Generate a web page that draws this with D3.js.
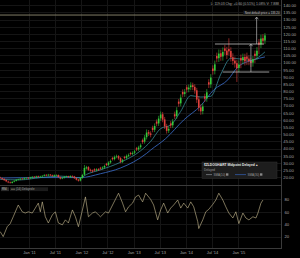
<!DOCTYPE html>
<html lang='en'>
<head>
<meta charset='utf-8'>
<title>Price chart</title>
<script src='https://cdn.jsdelivr.net/npm/d3@7'></script>
<style>
  body { margin: 0; background: #000; }
  svg { display: block; background: #000; font-family: 'Liberation Sans', sans-serif; }
</style>
</head>
<body>
<div id='chart'></div>
<script>
// two-week candles, first one on 2010-06-14
var candleStart = '2010-06-14';
var opens = [19.9,19.4,18.9,18.1,17.0,16.6,16.1,17.0,17.6,18.3,18.5,19.1,18.8,19.4,19.7,19.3,19.8,20.4,20.0,20.7,
  20.1,20.6,21.1,21.7,21.3,21.9,21.4,20.8,21.3,21.6,20.1,19.2,19.7,20.4,20.7,20.2,20.9,20.6,19.5,18.4,
  17.7,19.6,21.8,26.2,27.1,25.3,24.8,25.6,24.9,25.7,26.6,26.2,26.9,29.4,28.7,30.4,33.5,32.7,34.3,34.8,
  33.4,30.9,34.2,33.6,35.0,37.0,36.4,37.2,40.3,39.5,41.0,45.9,44.9,48.0,51.5,50.6,54.5,53.2,58.9,57.6,
  61.2,64.0,60.4,55.8,52.6,57.6,56.3,64.0,62.8,72.8,71.6,79.5,78.2,82.8,81.4,82.9,84.3,83.1,80.7,74.4,
  68.8,66.2,76.4,75.0,86.3,84.9,95.9,94.4,104.6,103.1,106.5,104.3,109.9,108.4,109.5,108.1,103.8,101.4,99.6,96.3,
  103.2,101.7,104.0,104.3,102.8,101.2,100.0,106.2,104.8,114.1,112.7,117.0,115.4];
var closes = [19.5,18.8,18.0,17.2,16.5,16.2,16.8,17.5,18.2,18.6,19.0,18.7,19.3,19.6,19.2,19.9,20.3,20.0,20.6,20.2,
  20.5,21.0,21.6,21.2,21.8,21.3,20.9,21.4,21.5,20.2,19.1,19.6,20.3,20.6,20.1,20.8,20.5,19.4,18.3,17.6,
  19.5,21.6,26.5,27.0,25.2,24.6,24.0,24.8,25.5,25.1,26.0,26.8,27.9,28.6,30.2,31.4,32.6,34.1,34.6,33.2,
  30.8,31.9,33.5,34.8,35.6,36.2,37.0,38.1,39.4,40.8,42.3,44.6,47.8,51.2,50.4,49.6,53.0,55.8,57.4,61.0,
  63.8,60.2,55.6,52.4,53.8,56.1,58.9,62.5,66.8,71.3,75.6,77.9,79.4,81.2,82.6,84.1,83.0,80.5,74.2,68.5,
  66.0,69.4,74.8,79.3,84.7,89.6,94.2,98.8,102.9,106.3,104.1,107.5,108.2,105.3,107.9,103.6,101.2,99.4,96.1,98.7,
  101.5,103.8,100.9,102.6,101.0,99.8,102.4,104.6,108.3,112.5,116.8,115.2,119.0];
var highs = [20.4,19.9,19.3,18.6,17.6,17.1,17.3,18.0,18.8,19.1,19.6,19.5,19.9,20.1,20.2,20.4,20.9,20.9,21.1,21.2,
  21.1,21.5,22.2,22.3,22.4,22.3,21.9,22.0,22.1,22.0,20.6,20.2,20.8,21.2,21.1,21.4,21.4,21.0,20.0,18.9,
  20.1,22.4,28.6,28.0,27.8,26.0,25.4,26.3,26.3,26.4,27.3,27.6,28.8,30.1,31.1,32.4,34.3,35.2,35.8,35.5,
  34.1,32.8,35.0,35.9,36.6,37.8,38.1,39.2,41.2,42.0,43.6,47.0,49.5,53.4,53.0,52.1,56.0,57.6,60.4,62.9,
  65.9,65.6,62.1,57.3,55.6,59.2,60.7,65.8,68.9,74.6,77.8,81.3,81.6,84.5,84.7,86.3,86.0,84.9,82.4,76.5,
  70.9,71.6,78.3,81.5,88.4,92.0,98.1,101.4,107.0,109.2,109.0,110.6,112.4,111.0,117.0,110.7,106.5,104.2,102.0,101.6,
  105.6,106.3,106.2,107.0,105.1,103.4,104.6,108.4,110.8,116.5,119.5,119.8,120.6];
var lows = [19.0,18.3,17.5,16.6,15.9,15.6,15.7,16.5,17.1,17.8,18.0,18.2,18.3,18.9,18.6,18.8,19.3,19.5,19.4,19.7,
  19.6,20.1,20.6,20.7,20.8,20.8,20.4,20.2,20.8,19.7,18.5,18.7,19.2,19.9,19.6,19.7,20.0,18.9,17.8,17.0,
  17.1,19.0,21.2,25.4,24.5,23.9,23.3,24.1,24.2,24.4,25.3,25.5,26.1,27.8,27.9,29.5,31.7,31.8,33.3,32.2,
  29.8,29.9,32.5,32.6,34.0,35.2,35.4,36.2,38.3,38.4,39.8,43.3,43.5,46.4,48.8,47.9,51.4,51.5,55.6,55.8,
  59.3,58.4,53.7,50.5,50.9,54.3,54.5,60.6,60.8,69.2,69.5,75.8,76.1,79.0,79.3,80.7,80.8,78.3,71.9,66.1,
  63.6,63.9,72.5,72.7,82.3,82.4,91.6,91.8,100.2,100.4,101.3,101.4,105.4,102.5,105.0,100.8,98.4,96.5,86.5,93.5,
  96.1,98.9,98.0,98.3,98.2,97.0,97.2,99.8,102.1,105.9,110.1,112.6,112.9];

// moving averages (week number from candleStart, price)
var smaShortWeeks = [0,20,40,60,80,86,100,120,140,150,160,170,180,190,200,210,220,230,240,250,258,264];
var smaShortVals = [18.5,18.2,19.8,20.8,19.6,22.0,25.2,30.5,38.5,45.0,54.0,56.5,66.0,77.0,76.0,76.5,92.0,103.0,102.5,101.5,104.0,107.5];
var smaLongWeeks = [0,40,80,100,120,146,150,165,183,200,213,227,237,253,264];
var smaLongVals = [19.5,19.8,19.8,22.5,26.5,36.7,39,47,60,70,81,88,97,102,104];

// RSI (week number, value)
var rsiWeeks = [0,3,7,10,13,18,22,25,28,32,35,38,40,42,45,48,52,55,58,62,65,68,72,75,78,82,85,88,92,95,
  98,100,105,108,113,118,122,125,128,132,135,138,142,145,150,153,157,160,163,167,170,173,177,180,183,187,190,193,197,198,
  202,205,208,212,215,218,222,225,228,232,235,238,242,245,248,252,255,257,260,262];
var rsiVals = [28,20,36,41,52,71,60,58,60,58,66,74,60,76,52,42,55,60,42,39,47,42,63,52,36,63,84,52,58,60,
  55,52,60,58,74,90,74,60,68,74,84,87,76,90,80,71,47,63,74,58,66,71,79,66,74,66,76,68,44,33,
  47,60,64,72,79,90,79,68,58,50,60,41,58,50,47,52,50,58,74,79];

// axes
var priceTicks = d3.range(20, 145, 5);
var rsiTicks = [20, 40, 60, 80];
var timeTicks = ['2011-01-01','2011-07-01','2012-01-01','2012-07-01','2013-01-01','2013-07-01','2014-01-01','2014-07-01','2015-01-01'];

// drawn annotations
var nextPrice = 133.2;
var boxTop = { price: 113.0, from: '2014-07-22', to: '2015-06-29' };
var boxBottom = { price: 93.45, from: '2014-09-14', to: '2015-08-05' };
var arrows = [
  { date: '2015-03-30', from: 93.45, to: 113.0 },
  { date: '2015-05-09', from: 113.0, to: 131.8 }
];

var W = 300, H = 258, plotRight = 281;

var svg = d3.select('#chart').append('svg')
  .attr('width', W).attr('height', H);

var start = d3.isoParse(candleStart);
function weekDate(w) { return d3.utcDay.offset(start, Math.round(w * 7)); }

var x = d3.scaleUtc()
  .domain([d3.isoParse('2011-01-01'), d3.isoParse('2015-01-01')])
  .range([29, 238.3]);
var y = d3.scaleLinear().domain([20, 140]).range([177.3, 5.3]);
var yr = d3.scaleLinear().domain([20, 80]).range([236.6, 199.4]);

var gridColor = '#151515';

// grid
var grid = svg.append('g');
grid.selectAll('.hg').data(priceTicks).enter().append('line')
  .attr('x1', 0).attr('x2', plotRight)
  .attr('y1', function(d) { return Math.round(y(d)) + 0.5; })
  .attr('y2', function(d) { return Math.round(y(d)) + 0.5; })
  .attr('stroke', gridColor).attr('stroke-width', 1);
grid.selectAll('.hr').data(rsiTicks).enter().append('line')
  .attr('x1', 0).attr('x2', plotRight)
  .attr('y1', function(d) { return Math.round(yr(d)) + 0.5; })
  .attr('y2', function(d) { return Math.round(yr(d)) + 0.5; })
  .attr('stroke', gridColor).attr('stroke-width', 1);
grid.selectAll('.vg').data(timeTicks).enter().append('line')
  .attr('x1', function(d) { return Math.round(x(d3.isoParse(d))) + 0.5; })
  .attr('x2', function(d) { return Math.round(x(d3.isoParse(d))) + 0.5; })
  .attr('y1', 0).attr('y2', 248)
  .attr('stroke', gridColor).attr('stroke-width', 1);

// panel frames
svg.append('line').attr('x1', 0).attr('x2', plotRight).attr('y1', 185.5).attr('y2', 185.5)
  .attr('stroke', '#3a3a3a');
svg.append('line').attr('x1', 0).attr('x2', plotRight).attr('y1', 248.5).attr('y2', 248.5)
  .attr('stroke', '#3a3a3a');
svg.append('line').attr('x1', plotRight + 0.5).attr('x2', plotRight + 0.5).attr('y1', 0).attr('y2', 249)
  .attr('stroke', '#3a3a3a');

// next default price line
svg.append('line').attr('x1', 0).attr('x2', plotRight)
  .attr('y1', y(nextPrice)).attr('y2', y(nextPrice))
  .attr('stroke', '#8e8b70').attr('stroke-width', 0.9);

// moving averages
var line = d3.line().x(function(d) { return x(weekDate(d[0])); }).y(function(d) { return y(d[1]); });
svg.append('path').datum(d3.zip(smaLongWeeks, smaLongVals))
  .attr('d', line.curve(d3.curveMonotoneX)).attr('fill', 'none')
  .attr('stroke', '#3563b8').attr('stroke-width', 0.9);
svg.append('path').datum(d3.zip(smaShortWeeks, smaShortVals))
  .attr('d', line.curve(d3.curveMonotoneX)).attr('fill', 'none')
  .attr('stroke', '#3d9aa8').attr('stroke-width', 0.7);

// candles
var candles = closes.map(function(c, i) {
  return { date: weekDate(i * 2), o: opens[i], h: highs[i], l: lows[i], c: c };
});
var up = '#33c93a', down = '#e0403c';
var cg = svg.append('g');
cg.selectAll('.wick').data(candles).enter().append('line')
  .attr('x1', function(d) { return x(d.date); })
  .attr('x2', function(d) { return x(d.date); })
  .attr('y1', function(d) { return y(d.h); })
  .attr('y2', function(d) { return y(d.l); })
  .attr('stroke', function(d) { return d.c >= d.o ? up : down; })
  .attr('stroke-width', 0.6);
cg.selectAll('.body').data(candles).enter().append('rect')
  .attr('x', function(d) { return x(d.date) - 0.8; })
  .attr('width', 1.6)
  .attr('y', function(d) { return y(Math.max(d.o, d.c)); })
  .attr('height', function(d) { return Math.max(0.5, Math.abs(y(d.o) - y(d.c))); })
  .attr('fill', function(d) { return d.c >= d.o ? up : down; });

// box pattern and arrows
var ann = svg.append('g').attr('stroke', '#d8d8d8').attr('stroke-width', 0.7).attr('fill', 'none');
[boxTop, boxBottom].forEach(function(b) {
  ann.append('line')
    .attr('x1', x(d3.isoParse(b.from))).attr('x2', x(d3.isoParse(b.to)))
    .attr('y1', y(b.price)).attr('y2', y(b.price));
});
arrows.forEach(function(a) {
  var ax = x(d3.isoParse(a.date)), y0 = y(a.from), y1 = y(a.to);
  ann.append('line').attr('x1', ax).attr('x2', ax).attr('y1', y0).attr('y2', y1)
    .attr('stroke', '#b8b8b8');
  ann.append('path').attr('d', 'M' + (ax - 1.6) + ',' + (y1 + 2.2) + 'L' + ax + ',' + y1 + 'L' + (ax + 1.6) + ',' + (y1 + 2.2))
    .attr('stroke', '#b8b8b8');
});

// next price label
svg.append('rect').attr('x', 243).attr('y', 10.6).attr('width', 38).attr('height', 4)
  .attr('fill', '#141414');
svg.append('text').attr('x', 279.5).attr('y', 13.6).attr('text-anchor', 'end')
  .attr('font-size', 2.9).attr('fill', '#c8c8c8')
  .text('Next default price = ' + nextPrice.toFixed(2));

// header quote text
svg.append('text').attr('x', 279).attr('y', 5.3).attr('text-anchor', 'end')
  .attr('font-size', 3.4).attr('fill', '#a8a8a8')
  .text('L: 119.03  Chg: +0.60 (0.51%)  1.08%  V: 7.888');

// RSI line
var rline = d3.line().x(function(d) { return x(weekDate(d[0])); }).y(function(d) { return yr(d[1]); });
svg.append('path').datum(d3.zip(rsiWeeks, rsiVals))
  .attr('d', rline).attr('fill', 'none')
  .attr('stroke', '#cfc196').attr('stroke-width', 0.6);

// axes
function styleAxis(g, size) {
  g.select('.domain').remove();
  g.selectAll('text').attr('fill', '#a6a6a6').attr('font-size', size)
    .attr('font-family', "'Liberation Sans', sans-serif");
}
svg.append('g').attr('transform', 'translate(' + plotRight + ',0)')
  .call(d3.axisRight(y).tickValues(priceTicks).tickSize(0).tickPadding(2.3).tickFormat(d3.format('.2f')))
  .call(styleAxis, 4.2);
svg.append('g').attr('transform', 'translate(' + plotRight + ',0)')
  .call(d3.axisRight(yr).tickValues(rsiTicks).tickSize(0).tickPadding(3.5).tickFormat(d3.format('d')))
  .call(styleAxis, 4.2);
svg.append('g').attr('transform', 'translate(0,249)')
  .call(d3.axisBottom(x).tickValues(timeTicks.map(function(d) { return d3.isoParse(d); }))
    .tickSize(0).tickPadding(2.3).tickFormat(d3.utcFormat("%b '%y")))
  .call(styleAxis, 4);

// main legend
var lg = svg.append('g').attr('transform', 'translate(202,162)');
lg.append('rect').attr('width', 75).attr('height', 16.5).attr('fill', '#1d1d1d')
  .attr('stroke', '#333').attr('stroke-width', 0.5);
lg.append('text').attr('x', 2).attr('y', 4).attr('font-size', 3.3).attr('font-weight', 'bold')
  .attr('fill', '#e6e6e6').text('$ZLDOGHART Midpoint Delayed  \u25B4');
lg.append('text').attr('x', 2).attr('y', 8.6).attr('font-size', 3).attr('fill', '#9a9a9a').text('Delayed');
lg.append('line').attr('x1', 4).attr('x2', 10).attr('y1', 12.6).attr('y2', 12.6)
  .attr('stroke', '#9aa0a8').attr('stroke-width', 0.6);
lg.append('text').attr('x', 11.5).attr('y', 13.6).attr('font-size', 3).attr('fill', '#9a9a9a').text('SMA(10)');
lg.append('rect').attr('x', 24).attr('y', 11.3).attr('width', 2.4).attr('height', 2.4).attr('fill', '#888');
lg.append('line').attr('x1', 33).attr('x2', 44).attr('y1', 12.6).attr('y2', 12.6)
  .attr('stroke', '#3563b8').attr('stroke-width', 0.7);
lg.append('text').attr('x', 45.5).attr('y', 13.6).attr('font-size', 3).attr('fill', '#9a9a9a').text('SMA(30)');
lg.append('rect').attr('x', 58).attr('y', 11.3).attr('width', 2.4).attr('height', 2.4).attr('fill', '#888');

// RSI header
svg.append('rect').attr('x', 1).attr('y', 187.3).attr('width', 8).attr('height', 3.8).attr('fill', '#2a2a2a');
svg.append('text').attr('x', 2).attr('y', 190.3).attr('font-size', 2.9).attr('fill', '#cfcfcf').text('RSI');
svg.append('rect').attr('x', 10).attr('y', 187.3).attr('width', 38).attr('height', 3.8).attr('fill', '#1b1b1b');
svg.append('line').attr('x1', 11).attr('x2', 15).attr('y1', 189.2).attr('y2', 189.2)
  .attr('stroke', '#cfc196').attr('stroke-width', 0.5);
svg.append('text').attr('x', 16).attr('y', 190.3).attr('font-size', 2.9).attr('fill', '#a0a0a0').text('(14) Delayed \u25BE');
</script>
</body>
</html>
